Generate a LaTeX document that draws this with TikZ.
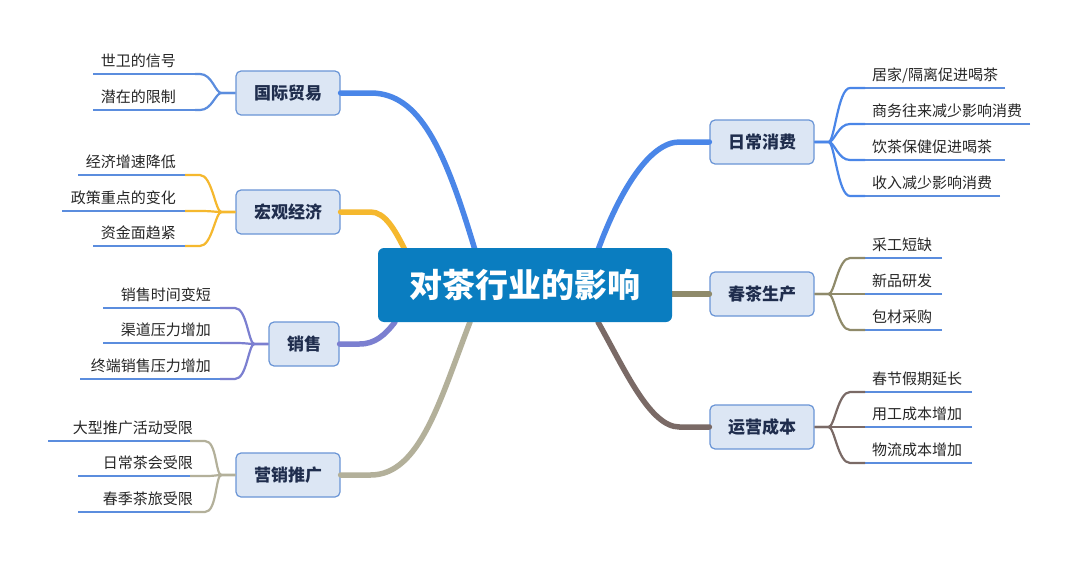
\documentclass[tikz,border=0pt]{standalone}
\usepackage{fontspec}
\setmainfont{Noto Sans CJK SC}
\usetikzlibrary{calc}
\begin{document}
\begin{tikzpicture}[x=1pt,y=-1pt,
  topic/.style={draw=topb,fill=topf,line width=1.2pt,rounded corners=5pt,minimum width=104pt,minimum height=44pt,font=\fontsize{17}{17}\selectfont\bfseries,text=topt,inner sep=0pt},
  leaftxt/.style={font=\fontsize{15}{15}\selectfont,text=black!85,inner sep=0pt},
  uline/.style={draw=lblue,line width=2pt},
  br/.style={line width=2.2pt},
  main/.style={line width=5.5pt,line cap=round}]
\definecolor{topb}{HTML}{6A95D6}\definecolor{topf}{HTML}{DCE6F4}\definecolor{topt}{HTML}{1F2D4D}
\definecolor{lblue}{HTML}{5B8DDE}\definecolor{cblue}{HTML}{4A86E8}\definecolor{cyel}{HTML}{F5B82E}
\definecolor{cpur}{HTML}{7B7FD0}\definecolor{cbei}{HTML}{B3B09A}\definecolor{coli}{HTML}{8F8A6A}
\definecolor{cbro}{HTML}{7A6A66}\definecolor{cmain}{HTML}{0A7DC0}
\useasboundingbox (0,0) rectangle (1080,562);
\fill[white] (0,0) rectangle (1080,562);
\coordinate (c1) at (475,250);\coordinate (c2) at (405,250);\coordinate (c3) at (395,322);\coordinate (c4) at (470,322);
\coordinate (c5) at (598,250);\coordinate (c6) at (672,294);\coordinate (c7) at (598,322);
\node[topic] (t1) at (288,93) {国际贸易};
\node[topic] (t2) at (288,212) {宏观经济};
\node[topic,minimum width=70pt] (t3) at (304,344) {销售};
\node[topic] (t4) at (288,475) {营销推广};
\node[topic] (t5) at (762,142) {日常消费};
\node[topic] (t6) at (762,294) {春茶生产};
\node[topic] (t7) at (762,427) {运营成本};
\draw[main,cblue] (t1.east) -- ++(30,0) .. controls (420,93) and (445,150) .. (c1);
\draw[main,cyel] (t2.east) -- ++(30,0) .. controls (385,212) and (395,230) .. (c2);
\draw[main,cpur] (t3.east) -- ++(20,0) .. controls (375,344) and (385,335) .. (c3);
\draw[main,cbei] (t4.east) -- ++(30,0) .. controls (420,475) and (440,400) .. (c4);
\draw[main,cblue] (t5.west) -- ++(-30,0) .. controls (650,142) and (620,190) .. (c5);
\draw[main,coli] (t6.west) -- (c6);
\draw[main,cbro] (t7.west) -- ++(-30,0) .. controls (650,427) and (625,370) .. (c7);
\node[fill=cmain,rounded corners=6pt,minimum width=294pt,minimum height=74pt,text=white,font=\fontsize{33}{33}\selectfont\bfseries] (center) at (525,285) {对茶行业的影响};
\newcommand\leafL[9]{%
  \node[leaftxt,anchor=base east] (#1) at (#3,#4-8) {#2};
  \coordinate (#1a) at (#5,#4);\coordinate (#1b) at (#6,#4);\coordinate (#1c) at (#7,#4);
  \draw[uline] (#1a) -- (#1b);
  \draw[br,#8] (#1b) -- (#1c) .. controls ($(#1c)+(12,0)$) and ($(#9.west)+(-20,0)$) .. ($(#9.west)+(-14,0)$) -- (#9.west);}
\newcommand\leafR[9]{%
  \node[leaftxt,anchor=base west] (#1) at (#3,#4-8) {#2};
  \coordinate (#1a) at (#5,#4);\coordinate (#1b) at (#6,#4);\coordinate (#1c) at (#7,#4);
  \draw[uline] (#1a) -- (#1b);
  \draw[br,#8] (#1b) -- (#1c) .. controls ($(#1c)+(-12,0)$) and ($(#9.east)+(20,0)$) .. ($(#9.east)+(14,0)$) -- (#9.east);}
\leafL{a1}{世卫的信号}{176}{74}{93}{195}{200}{lblue}{t1}
\leafL{a2}{潜在的限制}{176}{110}{93}{195}{200}{lblue}{t1}
\leafL{b1}{经济增速降低}{176}{175}{78}{185}{200}{cyel}{t2}
\leafL{b2}{政策重点的变化}{176}{211}{62}{185}{200}{cyel}{t2}
\leafL{b3}{资金面趋紧}{176}{246}{93}{185}{200}{cyel}{t2}
\leafL{d1}{销售时间变短}{211}{308}{103}{220}{235}{cpur}{t3}
\leafL{d2}{渠道压力增加}{211}{343}{103}{220}{235}{cpur}{t3}
\leafL{d3}{终端销售压力增加}{211}{379}{80}{220}{235}{cpur}{t3}
\leafL{e1}{大型推广活动受限}{193}{441}{48}{190}{205}{cbei}{t4}
\leafL{e2}{日常茶会受限}{193}{476}{78}{190}{205}{cbei}{t4}
\leafL{e3}{春季茶旅受限}{193}{512}{78}{190}{205}{cbei}{t4}
\leafR{f1}{居家/隔离促进喝茶}{872}{88}{1005}{865}{850}{cblue}{t5}
\leafR{f2}{商务往来减少影响消费}{872}{124}{1030}{865}{850}{cblue}{t5}
\leafR{f3}{饮茶保健促进喝茶}{872}{160}{1005}{865}{850}{cblue}{t5}
\leafR{f4}{收入减少影响消费}{872}{196}{1000}{865}{850}{cblue}{t5}
\leafR{g1}{采工短缺}{872}{258}{942}{865}{850}{coli}{t6}
\leafR{g2}{新品研发}{872}{294}{942}{865}{850}{coli}{t6}
\leafR{g3}{包材采购}{872}{330}{942}{865}{850}{coli}{t6}
\leafR{h1}{春节假期延长}{872}{392}{972}{865}{850}{cbro}{t7}
\leafR{h2}{用工成本增加}{872}{427}{972}{865}{850}{cbro}{t7}
\leafR{h3}{物流成本增加}{872}{463}{972}{865}{850}{cbro}{t7}
\end{tikzpicture}
\end{document}
